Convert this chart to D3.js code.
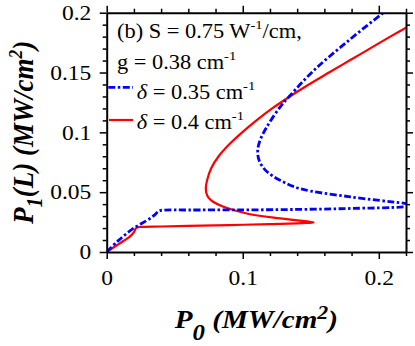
<!DOCTYPE html>
<html lang="en">
<head>
<meta charset="UTF-8">
<title>P1(L) versus P0</title>
<script src="https://d3js.org/d3.v7.min.js"></script>
<style>
  body { margin: 0; background: #fff; }
  text { font-family: "Liberation Serif", "Times New Roman", serif; fill: #000; }
</style>
</head>
<body>
<div id="chart"></div>
<script>
// ---- data ----
const xMajor = [0, 0.1, 0.2];
const xMinor = [0.02, 0.04, 0.06, 0.08, 0.12, 0.14, 0.16, 0.18, 0.22];
const yMajor = [0, 0.05, 0.1, 0.15, 0.2];
const yMinor = [0.01, 0.02, 0.03, 0.04, 0.06, 0.07, 0.08, 0.09, 0.11, 0.12, 0.13, 0.14, 0.16, 0.17, 0.18, 0.19];
const xTickLabels = ["0", "0.1", "0.2"];
const yTickLabels = ["0", "0.05", "0.1", "0.15", "0.2"];

// delta = 0.4 cm-1 (red, solid)
const redP0 = [0, 0.009, 0.0165, 0.019, 0.0205, 0.0212, 0.0228, 0.026, 0.04, 0.06, 0.09, 0.12, 0.14, 0.148, 0.152,
  0.147, 0.1274, 0.1029, 0.0858, 0.0785, 0.0748, 0.0732, 0.0729, 0.0738, 0.0768, 0.0823, 0.0901, 0.0996, 0.1101, 0.1216,
  0.1346, 0.1486, 0.1634, 0.1784, 0.1934, 0.2084, 0.2239];
const redP1 = [0, 0.0068, 0.0125, 0.015, 0.0175, 0.0195, 0.0207, 0.021, 0.0213, 0.0218, 0.0225, 0.0233, 0.024, 0.0243, 0.0247,
  0.0256, 0.0281, 0.0322, 0.0378, 0.0418, 0.0455, 0.0495, 0.054, 0.06, 0.07, 0.08, 0.09, 0.10, 0.11, 0.12,
  0.13, 0.14, 0.15, 0.16, 0.17, 0.18, 0.19];

// delta = 0.35 cm-1 (blue, dash-dot)
const blueP0 = [0, 0.0085, 0.0196, 0.0318, 0.036, 0.038, 0.0416, 0.06, 0.1, 0.142, 0.18, 0.218, 0.228,
  0.218, 0.179, 0.142, 0.1274, 0.117, 0.112, 0.111, 0.1127, 0.1176, 0.1274, 0.1348, 0.152, 0.1765, 0.2034, 0.21];
const blueP1 = [0, 0.0095, 0.0197, 0.028, 0.0318, 0.0342, 0.035, 0.0351, 0.0352, 0.0356, 0.0364, 0.0377, 0.0392,
  0.0408, 0.0461, 0.053, 0.06, 0.068, 0.0767, 0.085, 0.0933, 0.1044, 0.1211, 0.1308, 0.1515, 0.1755, 0.2, 0.2055];

const W = 415, H = 346;
const margin = { top: 12.7, right: 9, bottom: 94, left: 106.7 };
const SX = 1.12; // the original figure is a little wider than tall

const svg = d3.select("#chart").append("svg")
  .attr("width", W).attr("height", H);

const x = d3.scaleLinear().domain([0, 0.22]).range([margin.left, W - margin.right]);
const y = d3.scaleLinear().domain([0, 0.2]).range([H - margin.bottom, margin.top]);

// clip so the curves stop at the frame
svg.append("clipPath").attr("id", "plotclip")
  .append("rect")
  .attr("x", x(0)).attr("y", y(0.2))
  .attr("width", x(0.22) - x(0)).attr("height", y(0) - y(0.2));

const line = d3.line()
  .x(d => x(d[0])).y(d => y(d[1]))
  .curve(d3.curveCatmullRom.alpha(0.5));

const redData = redP0.map((v, i) => [v, redP1[i]]);
const blueData = blueP0.map((v, i) => [v, blueP1[i]]);

const curves = svg.append("g").attr("clip-path", "url(#plotclip)");
curves.append("path").datum(redData)
  .attr("d", line).attr("fill", "none")
  .attr("stroke", "#ff0000").attr("stroke-width", 2.2);
curves.append("path").datum(blueData)
  .attr("d", line).attr("fill", "none")
  .attr("stroke", "#0000ff").attr("stroke-width", 2.8)
  .attr("stroke-dasharray", "7,2.5,2.5,2.5");

// ---- axes: ticks on all four sides, pointing out ----
function styleAxis(g) {
  g.select(".domain").attr("stroke", "#000").attr("stroke-width", 2);
  g.selectAll(".tick line").attr("stroke", "#000").attr("stroke-width", 1.5);
}

function drawAxes(axisFn, scale, major, minor, pos, labels) {
  const gMinor = svg.append("g").attr("transform", pos)
    .call(axisFn(scale).tickValues(minor).tickSize(4).tickFormat(""));
  gMinor.select(".domain").remove();
  gMinor.selectAll(".tick line").attr("stroke", "#000").attr("stroke-width", 1.5);
  const gMajor = svg.append("g").attr("transform", pos)
    .call(axisFn(scale).tickValues(major).tickSizeInner(7).tickSizeOuter(0)
      .tickFormat(labels ? (d, i) => labels[i] : ""));
  styleAxis(gMajor);
  return gMajor;
}

const gx = drawAxes(d3.axisBottom, x, xMajor, xMinor, `translate(0,${y(0)})`, xTickLabels);
gx.attr("font-family", null);
gx.selectAll("text")
  .attr("y", 33).attr("dy", null)
  .attr("transform", `scale(${SX},1)`)
  .style("font-size", "21px");

const gy = drawAxes(d3.axisLeft, y, yMajor, yMinor, `translate(${x(0)},0)`, yTickLabels);
gy.attr("font-family", null);
gy.selectAll("text")
  .attr("x", -13.7).attr("dy", "0.32em")
  .attr("transform", `scale(${SX},1)`)
  .style("font-size", "21px");

drawAxes(d3.axisTop, x, xMajor, xMinor, `translate(0,${y(0.2)})`, null);
drawAxes(d3.axisRight, y, yMajor, yMinor, `translate(${x(0.22)},0)`, null);

// ---- text helper: parts with optional sub/sup/italic ----
function richText(g, parts, size) {
  const t = g.append("text").style("font-size", size + "px");
  let shift = 0;
  parts.forEach(p => {
    const target = p.sub ? p.sub : p.sup ? -p.sup : 0;
    const ts = t.append("tspan").text(p.t).attr("dy", target - shift);
    shift = target;
    if (p.sub || p.sup) ts.style("font-size", (p.scale || 0.65) * size + "px");
    if (p.italic) ts.style("font-style", "italic");
  });
  return t;
}

// axis titles
const xTitle = svg.append("g")
  .attr("transform", `translate(${(x(0) + x(0.22)) / 2},328.3) scale(${SX},1)`);
richText(xTitle, [
  { t: "P" }, { t: "0", sub: 12, scale: 0.85 }, { t: " (MW/cm" }, { t: "2", sup: 9, scale: 0.75 }, { t: ")" }
], 26).attr("text-anchor", "middle")
  .style("font-weight", "bold").style("font-style", "italic");

const yTitle = svg.append("g")
  .attr("transform", `translate(33.3,${(y(0) + y(0.2)) / 2}) rotate(-90) scale(1,${SX})`);
richText(yTitle, [
  { t: "P" }, { t: "1", sub: 8, scale: 0.75 }, { t: "(L) (MW/cm" }, { t: "2", sup: 10, scale: 0.65 }, { t: ")" }
], 27).attr("text-anchor", "middle")
  .style("font-weight", "bold").style("font-style", "italic");

// ---- legend ----
const legendLines = [
  { y: 87.3, x1: 108.3, color: "#0000ff", width: 2.8, dash: "7,2.5,2.5,2.5" },
  { y: 120, x1: 109, color: "#ff0000", width: 2.2, dash: null }
];
legendLines.forEach(l => {
  svg.append("line")
    .attr("x1", l.x1).attr("x2", 133).attr("y1", l.y).attr("y2", l.y)
    .attr("stroke", l.color).attr("stroke-width", l.width)
    .attr("stroke-dasharray", l.dash);
});

const legendText = [
  { x: 117, y: 37.5, parts: [{ t: "(b) S = 0.75 W" }, { t: "-1", sup: 9 }, { t: "/cm," }] },
  { x: 117, y: 68.5, parts: [{ t: "g = 0.38 cm" }, { t: "-1", sup: 9 }] },
  { x: 136.7, y: 99, parts: [{ t: "δ", italic: true }, { t: " = 0.35 cm" }, { t: "-1", sup: 9 }] },
  { x: 136.7, y: 129, parts: [{ t: "δ", italic: true }, { t: " = 0.4 cm" }, { t: "-1", sup: 9 }] }
];
legendText.forEach(l => {
  const g = svg.append("g").attr("transform", `translate(${l.x},${l.y}) scale(${SX},1)`);
  richText(g, l.parts, 20);
});
</script>
</body>
</html>
